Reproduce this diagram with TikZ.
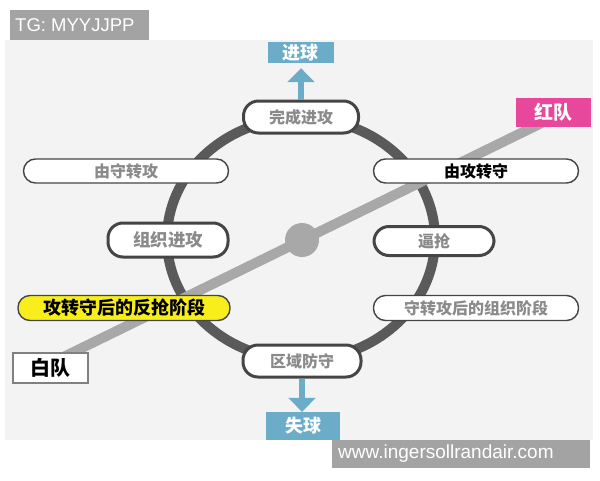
\documentclass[tikz,border=0pt]{standalone}
\usepackage{fontspec}
\setmainfont{Liberation Sans}
\newfontfamily\cjk{Noto Sans CJK SC}
\usetikzlibrary{arrows.meta}
\definecolor{panelbg}{HTML}{F3F3F3}
\definecolor{ringc}{HTML}{5A5A5A}
\definecolor{linec}{HTML}{A8A8A8}
\definecolor{bluec}{HTML}{6BADC9}
\definecolor{pinkc}{HTML}{E8489B}
\definecolor{yellowc}{HTML}{F8EE1C}
\definecolor{wmc}{HTML}{A3A3A3}
\definecolor{txtgray}{HTML}{8A8A8A}
\definecolor{borderc}{HTML}{454545}
\tikzset{
  pill/.style={draw=borderc, fill=white, rounded corners=#1, inner sep=0pt, font=\cjk\bfseries, text=txtgray},
  thickpill/.style={pill=15pt, line width=3pt},
  thinpill/.style={pill=12pt, line width=1.4pt, minimum width=205pt, minimum height=24pt, font=\cjk\fontsize{16}{16}\selectfont\bfseries},
  bluebox/.style={fill=bluec, text=white, inner sep=0pt, font=\cjk\bfseries\fontsize{18}{18}\selectfont},
  bluearrow/.style={bluec, line width=6pt, -{Triangle[width=27pt,length=14pt]}},
  wmbox/.style={fill=wmc, text=white, inner sep=0pt, font=\fontsize{18}{18}\selectfont},
}
\begin{document}
\begin{tikzpicture}[x=1pt,y=-1pt]
\useasboundingbox (0,0) rectangle (600,480);
\fill[white] (0,0) rectangle (600,480);
\fill[panelbg] (5,40) rectangle (593,440);
% ring
\draw[ringc, line width=10pt] (301,239) ellipse [x radius=134pt, y radius=121pt];
% diagonal team line
\coordinate (la) at (41,368);
\coordinate (lb) at (564,112);
\draw[linec, line width=10pt] (la) -- (lb);
\node[circle, fill=linec, minimum size=34pt, inner sep=0pt] (hub) at (302,240) {};
% goal / lose
\node[bluebox, minimum width=66pt, minimum height=21pt] (goal) at (300.5,52.5) {进球};
\node[bluebox, minimum width=74pt, minimum height=28pt] (lose) at (303,426) {失球};
% ring nodes
\node[thickpill, minimum width=115pt, minimum height=32pt, font=\cjk\bfseries\fontsize{16}{16}\selectfont] (done) at (301,117) {完成进攻};
\node[thickpill, minimum width=118pt, minimum height=32pt, font=\cjk\bfseries\fontsize{16}{16}\selectfont] (zone) at (302,361) {区域防守};
\node[thickpill, minimum width=120pt, minimum height=34pt, font=\cjk\bfseries\fontsize{17.5}{17.5}\selectfont] (org) at (168,240) {组织进攻};
\node[thickpill, minimum width=120pt, minimum height=29pt, font=\cjk\bfseries\fontsize{16}{16}\selectfont] (press) at (434,241) {逼抢};
% side labels
\node[thinpill] (d2a) at (126,171) {由守转攻};
\node[thinpill, text=black] (a2d) at (476,171) {由攻转守};
\node[thinpill, minimum width=212pt, minimum height=25pt, fill=yellowc, text=black, draw=borderc, font=\cjk\bfseries\fontsize{18}{18}\selectfont] (counter) at (124,308) {攻转守后的反抢阶段};
\node[thinpill, minimum height=25pt, font=\cjk\bfseries\fontsize{16}{16}\selectfont] (org2) at (476,308) {守转攻后的组织阶段};
% teams
\node[draw=gray, line width=1.5pt, fill=white, minimum width=75pt, minimum height=30pt, inner sep=0pt, font=\cjk\bfseries\fontsize{20}{20}\selectfont] (wt) at (50.5,368) {白队};
\node[fill=pinkc, text=white, minimum width=75pt, minimum height=29pt, inner sep=0pt, font=\cjk\bfseries\fontsize{19}{19}\selectfont] (rt) at (553.5,112.5) {红队};
% arrows
\draw[bluearrow, shorten >=5pt] (done.north) -- (done.north |- goal.south);
\draw[bluearrow] (zone.south) -- (zone.south |- lose.north);
% watermarks
\node[wmbox, minimum width=139pt, minimum height=30pt] (wm1) at (79.5,25) {};
\node[anchor=west, text=white, inner sep=0pt, font=\fontsize{18.5}{18.5}\selectfont] (wm1t) at (15,25) {TG: MYYJJPP};
\node[wmbox, minimum width=258pt, minimum height=28pt] (wm2) at (461,454) {};
\node[anchor=west, text=white, inner sep=0pt, font=\fontsize{19}{19}\selectfont] (wm2t) at (338,454) {www.ingersollrandair.com};
\end{tikzpicture}
\end{document}
